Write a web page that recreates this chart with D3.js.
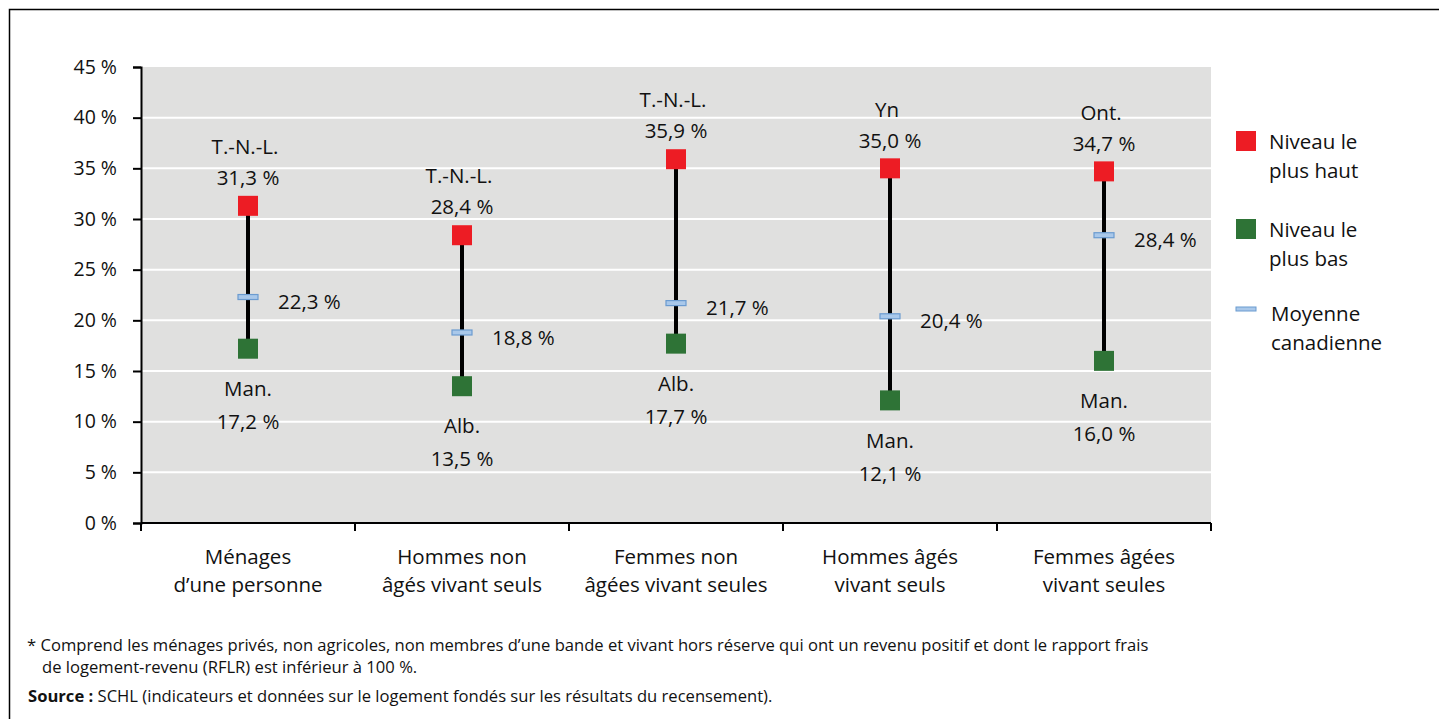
<!DOCTYPE html>
<html>
<head>
<meta charset="utf-8">
<script src="https://cdn.jsdelivr.net/npm/d3@7"></script>
<style>
  body { margin: 0; background: #fff; }
  svg { display: block; font-family: "Open Sans", Lato, sans-serif; }
</style>
</head>
<body>
<svg></svg>
<script>
// Categories (two lines each)
var categories = [
  ["Ménages", "d\u2019une personne"],
  ["Hommes non", "âgés vivant seuls"],
  ["Femmes non", "âgées vivant seules"],
  ["Hommes âgés", "vivant seuls"],
  ["Femmes âgées", "vivant seules"]
];

// Highest level, lowest level, Canadian average (%)
var highValues = [31.3, 28.4, 35.9, 35.0, 34.7];
var highNames = ["T.-N.-L.", "T.-N.-L.", "T.-N.-L.", "Yn", "Ont."];
var lowValues = [17.2, 13.5, 17.7, 12.1, 16.0];
var lowNames = ["Man.", "Alb.", "Alb.", "Man.", "Man."];
var meanValues = [22.3, 18.8, 21.7, 20.4, 28.4];

var yTicks = [0, 5, 10, 15, 20, 25, 30, 35, 40, 45];

var width = 1439;
var height = 719;
var fontSize = 20.5;
var svg = d3.select("svg")
  .attr("width", width)
  .attr("height", height);

var fmt = function(v) { return d3.format(".1f")(v).replace(".", ",") + " %"; };

// Outer frame
svg.append("rect")
  .attr("x", 9.5)
  .attr("y", 9.5)
  .attr("width", width)
  .attr("height", height)
  .attr("fill", "none")
  .attr("stroke", "#000")
  .attr("stroke-width", 1.5);

var plot = {left: 141, right: 1211, top: 67, bottom: 523};

var x = d3.scaleBand()
  .domain(d3.range(categories.length))
  .range([plot.left, plot.right]);

var y = d3.scaleLinear()
  .domain([0, 45])
  .range([plot.bottom, plot.top]);

// Plot background
svg.append("rect")
  .attr("x", plot.left)
  .attr("y", plot.top)
  .attr("width", plot.right - plot.left)
  .attr("height", plot.bottom - plot.top)
  .attr("fill", "#e0e0df");

// Gridlines
svg.selectAll(".grid")
  .data(yTicks.slice(1, -1))
  .enter()
  .append("line")
    .attr("class", "grid")
    .attr("x1", plot.left)
    .attr("x2", plot.right)
    .attr("y1", function(d) { return y(d); })
    .attr("y2", function(d) { return y(d); })
    .attr("stroke", "#fff")
    .attr("stroke-width", 2);

// Y axis
var yAxis = svg.append("g")
  .attr("transform", "translate(" + plot.left + ",0)")
  .call(d3.axisLeft(y).tickValues(yTicks).tickSize(8).tickPadding(16)
    .tickFormat(function(d) { return d + " %"; }));
yAxis.select(".domain").attr("stroke", "#000").attr("stroke-width", 2);
yAxis.selectAll(".tick line").attr("stroke", "#000").attr("stroke-width", 2);
yAxis.selectAll(".tick text")
  .attr("font-family", "'Open Sans', sans-serif")
  .attr("font-size", 19.5)
  .attr("fill", "#111");

// X axis line + ticks between categories
svg.append("line")
  .attr("x1", plot.left)
  .attr("x2", plot.right)
  .attr("y1", plot.bottom)
  .attr("y2", plot.bottom)
  .attr("stroke", "#000")
  .attr("stroke-width", 2);

var boundaries = d3.range(categories.length + 1).map(function(i) {
  return i < categories.length ? x(i) : x(i - 1) + x.bandwidth();
});
svg.selectAll(".xtick")
  .data(boundaries)
  .enter()
  .append("line")
    .attr("x1", function(d) { return d; })
    .attr("x2", function(d) { return d; })
    .attr("y1", plot.bottom)
    .attr("y2", plot.bottom + 8)
    .attr("stroke", "#000")
    .attr("stroke-width", 2);

// Category labels
var catLabels = svg.selectAll(".cat")
  .data(categories)
  .enter()
  .append("text")
    .attr("class", "cat")
    .attr("text-anchor", "middle")
    .attr("font-size", fontSize)
    .attr("fill", "#111");
catLabels.each(function(d, i) {
  var t = d3.select(this);
  d.forEach(function(line, j) {
    t.append("tspan")
      .attr("x", x(i) + x.bandwidth() / 2)
      .attr("y", 564 + j * 28)
      .text(line);
  });
});

var cx = function(i) { return x(i) + x.bandwidth() / 2; };
var sq = 20;

// Range lines
svg.selectAll(".range")
  .data(categories)
  .enter()
  .append("line")
    .attr("x1", function(d, i) { return cx(i); })
    .attr("x2", function(d, i) { return cx(i); })
    .attr("y1", function(d, i) { return y(highValues[i]); })
    .attr("y2", function(d, i) { return y(lowValues[i]); })
    .attr("stroke", "#000")
    .attr("stroke-width", 4);

// Mean markers
svg.selectAll(".mean")
  .data(meanValues)
  .enter()
  .append("rect")
    .attr("x", function(d, i) { return cx(i) - 10; })
    .attr("y", function(d) { return y(d) - 2.5; })
    .attr("width", 20)
    .attr("height", 5)
    .attr("fill", "#a9c8ea")
    .attr("stroke", "#6b9bd0")
    .attr("stroke-width", 1.2);

// High / low squares
svg.selectAll(".high")
  .data(highValues)
  .enter()
  .append("rect")
    .attr("x", function(d, i) { return cx(i) - sq / 2; })
    .attr("y", function(d) { return y(d) - sq / 2; })
    .attr("width", sq)
    .attr("height", sq)
    .attr("fill", "#ed1c24");

svg.selectAll(".low")
  .data(lowValues)
  .enter()
  .append("rect")
    .attr("x", function(d, i) { return cx(i) - sq / 2; })
    .attr("y", function(d) { return y(d) - sq / 2; })
    .attr("width", sq)
    .attr("height", sq)
    .attr("fill", "#2e7336");

// Value labels
function addLabel(tx, ty, txt, anchor) {
  svg.append("text")
    .attr("x", tx)
    .attr("y", ty)
    .attr("dy", "0.35em")
    .attr("text-anchor", anchor || "middle")
    .attr("font-size", fontSize)
    .attr("fill", "#111")
    .text(txt);
}

highValues.forEach(function(v, i) {
  var top = y(v) - sq / 2;
  addLabel(cx(i) - 3, top - 49, highNames[i]);
  addLabel(cx(i), top - 18, fmt(v));
});

lowValues.forEach(function(v, i) {
  var bottom = y(v) + sq / 2;
  addLabel(cx(i), bottom + 30, lowNames[i]);
  addLabel(cx(i), bottom + 63, fmt(v));
});

meanValues.forEach(function(v, i) {
  addLabel(cx(i) + 30, y(v) + 5, fmt(v), "start");
});

// Legend
var legend = svg.append("g");
legend.append("rect")
  .attr("x", 1236).attr("y", 131).attr("width", 20).attr("height", 20)
  .attr("fill", "#ed1c24");
legend.append("rect")
  .attr("x", 1236).attr("y", 219).attr("width", 20).attr("height", 20)
  .attr("fill", "#2e7336");
legend.append("rect")
  .attr("x", 1236).attr("y", 307).attr("width", 20).attr("height", 4)
  .attr("fill", "#a9c8ea")
  .attr("stroke", "#6b9bd0")
  .attr("stroke-width", 1);

var legendItems = [
  {x: 1269, y: 142, lines: ["Niveau le", "plus haut"]},
  {x: 1269, y: 230, lines: ["Niveau le", "plus bas"]},
  {x: 1271, y: 314, lines: ["Moyenne", "canadienne"]}
];
legendItems.forEach(function(d) {
  d.lines.forEach(function(line, j) {
    legend.append("text")
      .attr("x", d.x)
      .attr("y", d.y + j * 29)
      .attr("dy", "0.35em")
      .attr("font-size", fontSize)
      .attr("fill", "#111")
      .text(line);
  });
});

// Footnotes
var notes = svg.append("g").attr("font-size", 16.6).attr("fill", "#111");
notes.append("text")
  .attr("x", 27).attr("y", 651)
  .text("* Comprend les ménages privés, non agricoles, non membres d\u2019une bande et vivant hors réserve qui ont un revenu positif et dont le rapport frais");
notes.append("text")
  .attr("x", 42).attr("y", 673)
  .text("de logement-revenu (RFLR) est inférieur à 100 %.");
var src = notes.append("text")
  .attr("x", 28).attr("y", 702);
src.append("tspan").attr("font-weight", "bold").text("Source :");
src.append("tspan").text(" SCHL (indicateurs et données sur le logement fondés sur les résultats du recensement).");
</script>
</body>
</html>
